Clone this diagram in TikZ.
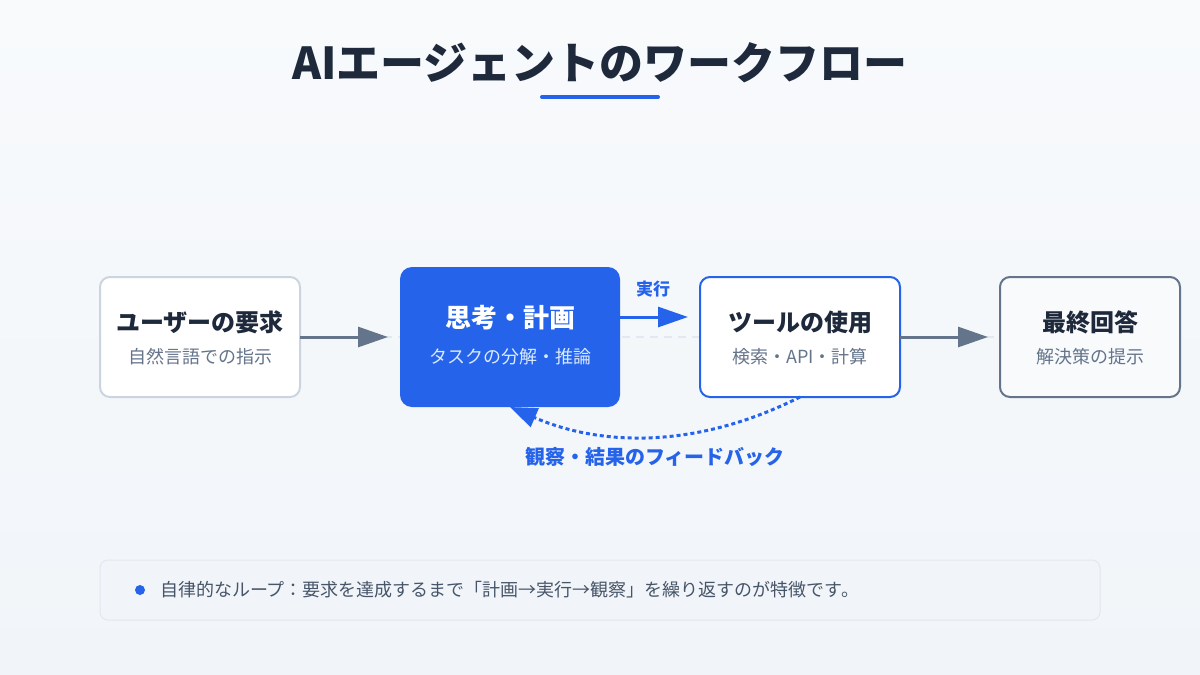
\documentclass[tikz,border=0pt]{standalone}
\usepackage{fontspec}
\setmainfont{Noto Sans CJK JP}
\usetikzlibrary{arrows.meta}

\definecolor{ink}{HTML}{1E293B}
\definecolor{subink}{HTML}{64748B}
\definecolor{noteink}{HTML}{475569}
\definecolor{edgegray}{HTML}{CBD5E1}
\definecolor{linegray}{HTML}{E2E8F0}
\definecolor{panel}{HTML}{F1F5F9}
\definecolor{paper}{HTML}{F8FAFC}
\definecolor{accent}{HTML}{2563EB}
\definecolor{paleblue}{HTML}{DBEAFE}

\newcommand{\setfs}[1]{\fontsize{#1pt}{#1pt}\selectfont}

\begin{document}
\begin{tikzpicture}[x=1pt,y=-1pt,inner sep=0pt,outer sep=0pt,
  stepbox/.style={rounded corners=10pt,minimum width=200pt,minimum height=120pt,line width=2pt},
  boxtitle/.style={font=\setfs{24}\bfseries,text=ink},
  boxsub/.style={font=\setfs{18}, text=subink},
  flow/.style={line width=3pt,-{Triangle[length=30pt,width=20pt]},shorten >=12pt}]

\useasboundingbox (0,0) rectangle (1200,675);
\shade[top color=paper,bottom color=panel] (0,0) rectangle (1200,675);

% title
\node (title) at (600,63) {\setfs{44}\bfseries\color{ink}AIエージェントのワークフロー};
\draw[accent,line width=4pt,line cap=round] (542,97) -- (658,97);

% dashed guide
\draw[linegray,line width=2pt,dash pattern=on 8pt off 6pt] (300,337) -- (1000,337);

% boxes
\node[stepbox,draw=edgegray,fill=white] (user) at (200,337) {};
\node[stepbox,fill=accent,minimum width=220pt,minimum height=140pt,rounded corners=12pt] (think) at (510,337) {};
\node[stepbox,draw=accent,fill=white] (tool) at (800,337) {};
\node[stepbox,draw=subink,fill=paper,minimum width=180pt] (answer) at (1090,337) {};

\node[boxtitle] (usert) at (200,322) {ユーザーの要求};
\node[boxsub] (users) at (200,357) {自然言語での指示};
\node[boxtitle,text=white,font=\setfs{26}\bfseries] (thinkt) at (510,318) {思考・計画};
\node[boxsub,text=paleblue] (thinks) at (510,357) {タスクの分解・推論};
\node[boxtitle] (toolt) at (800,322) {ツールの使用};
\node[boxsub] (tools) at (800,357) {検索・API・計算};
\node[boxtitle] (answert) at (1090,322) {最終回答};
\node[boxsub] (answers) at (1090,357) {解決策の提示};

% arrows
\draw[flow,subink] (user.east) -- (think.west);
\draw[flow,accent] ([yshift=20pt]think.east) -- ([yshift=20pt]tool.west);
\node[font=\setfs{17}\bfseries,text=accent] (exec) at (653,289) {実行};
\draw[flow,subink] (tool.east) -- (answer.west);

% feedback
\draw[accent,line width=3pt,dash pattern=on 4pt off 3pt,-{Triangle[length=27pt,width=20pt]}]
  (tool.south) .. controls (703,446) and (607,449) .. (think.south);
\node[font=\setfs{20}\bfseries,text=accent] (fb) at (655,457) {観察・結果のフィードバック};

% note
\node[draw=linegray,fill=panel,line width=1pt,rounded corners=8pt,minimum width=1000pt,minimum height=60pt] (note) at (600,590) {};
\fill[accent] (140,590) circle (5pt);
\node[anchor=west,font=\setfs{18},text=noteink] (notet) at (160,590) {自律的なループ：要求を達成するまで「計画→実行→観察」を繰り返すのが特徴です。};

\end{tikzpicture}
\end{document}
